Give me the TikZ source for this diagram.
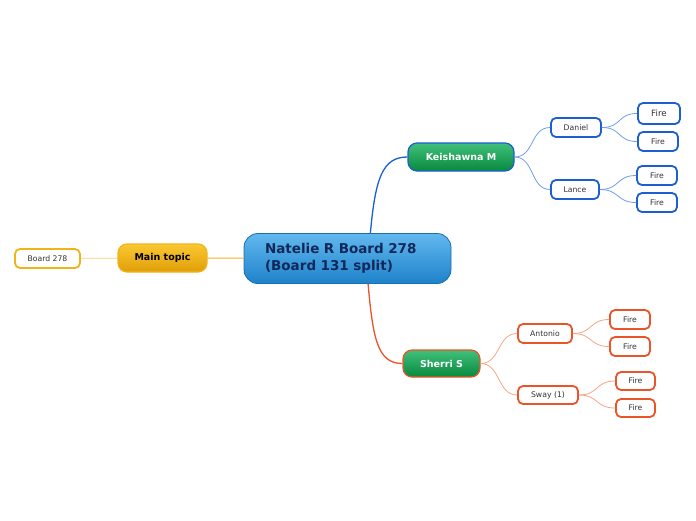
\documentclass[tikz,border=0pt]{standalone}
\usepackage{fontspec}
\setmainfont{DejaVu Sans}
\usetikzlibrary{positioning, calc}
\definecolor{blue_line}{HTML}{1B5FD3}
\definecolor{blue_soft}{HTML}{6F9EE6}
\definecolor{red_line}{HTML}{EA5428}
\definecolor{red_soft}{HTML}{F3A587}
\definecolor{gold_line}{HTML}{F2B318}
\definecolor{gold_soft}{HTML}{F7CF6A}
\definecolor{root_top}{HTML}{62B8EE}
\definecolor{root_bottom}{HTML}{1E82CA}
\definecolor{root_text}{HTML}{10285A}
\definecolor{green_top}{HTML}{40C07A}
\definecolor{green_bottom}{HTML}{08893E}
\definecolor{gold_top}{HTML}{FAC832}
\definecolor{gold_bottom}{HTML}{E09E08}
\tikzstyle{root_node}=[rectangle, rounded corners=14pt, draw=root_bottom!85!black, line width=0.8pt, top color=root_top, bottom color=root_bottom, minimum width=207pt, minimum height=50pt, text width=165pt, text=root_text, font=\bfseries\fontsize{13.5}{16.5}\selectfont, align=left]
\tikzstyle{topic_node}=[rectangle, rounded corners=9pt, line width=1.2pt, minimum height=28pt, inner sep=0pt, font=\bfseries\fontsize{9.5}{11}\selectfont]
\tikzstyle{green_node}=[topic_node, top color=green_top, bottom color=green_bottom, text=white]
\tikzstyle{leaf_node}=[rectangle, rounded corners=5pt, line width=1.8pt, fill=white, minimum height=19pt, inner sep=0pt, font=\fontsize{7.7}{9}\selectfont, text=black!80]

\begin{document}
\begin{tikzpicture}[x=1pt, y=-1pt]
    \useasboundingbox (0,0) rectangle (696,520);

    \node[root_node] at (347.5, 258.5) (ctr) {Natelie R Board 278\\(Board 131 split)};
    \node[topic_node, draw=gold_line, top color=gold_top, bottom color=gold_bottom, minimum width=89pt] at (162.5, 258) (main) {Main topic};
    \node[leaf_node, draw=gold_line, minimum width=65pt] at (47.5, 258.5) (board) {Board 278};

    \node[green_node, draw=blue_line, minimum width=106pt] at (461, 157) (kei) {Keishawna M};
    \node[green_node, draw=red_line, minimum width=77pt, minimum height=27pt] at (441.5, 363.5) (she) {Sherri S};

    \node[leaf_node, draw=blue_line, minimum width=50pt] at (576, 127.5) (dan) {Daniel};
    \node[leaf_node, draw=blue_line, minimum width=48pt] at (575, 189.5) (lan) {Lance};
    \node[leaf_node, draw=blue_line, minimum width=42pt, minimum height=21pt, font=\fontsize{8.7}{10}\selectfont] at (659, 113.5) (dan1) {Fire};
    \node[leaf_node, draw=blue_line, minimum width=40pt] at (658, 141.5) (dan2) {Fire};
    \node[leaf_node, draw=blue_line, minimum width=40pt] at (657, 175.5) (lan1) {Fire};
    \node[leaf_node, draw=blue_line, minimum width=40pt] at (657, 202.5) (lan2) {Fire};

    \node[leaf_node, draw=red_line, minimum width=54pt] at (545, 333.5) (ant) {Antonio};
    \node[leaf_node, draw=red_line, minimum width=60pt, minimum height=18pt] at (548, 395) (sway) {Sway (1)};
    \node[leaf_node, draw=red_line, minimum width=40pt] at (630, 319.5) (ant1) {Fire};
    \node[leaf_node, draw=red_line, minimum width=40pt] at (630, 346.5) (ant2) {Fire};
    \node[leaf_node, draw=red_line, minimum width=39pt, minimum height=18pt] at (635.5, 381) (sway1) {Fire};
    \node[leaf_node, draw=red_line, minimum width=39pt, minimum height=18pt] at (635.5, 408) (sway2) {Fire};

    \draw[gold_line, line width=1pt] (main) -- (ctr);
    \draw[gold_soft, line width=0.7pt] (board) -- (main);

    \draw[blue_line, line width=1.3pt] (ctr.48) .. controls +(5,-55) and +(-25,0) .. (kei.west);
    \draw[red_line, line width=1.3pt] (ctr.-51) .. controls +(5,55) and +(-25,0) .. (she.west);

    \draw[blue_soft, line width=0.8pt] (kei.east) .. controls +(20,0) and +(-20,0) .. (dan.west);
    \draw[blue_soft, line width=0.8pt] (kei.east) .. controls +(20,0) and +(-20,0) .. (lan.west);
    \draw[blue_soft, line width=0.8pt] (dan.east) .. controls +(20,0) and +(-20,0) .. (dan1.west);
    \draw[blue_soft, line width=0.8pt] (dan.east) .. controls +(20,0) and +(-20,0) .. (dan2.west);
    \draw[blue_soft, line width=0.8pt] (lan.east) .. controls +(20,0) and +(-20,0) .. (lan1.west);
    \draw[blue_soft, line width=0.8pt] (lan.east) .. controls +(20,0) and +(-20,0) .. (lan2.west);

    \draw[red_soft, line width=0.8pt] (she.east) .. controls +(20,0) and +(-20,0) .. (ant.west);
    \draw[red_soft, line width=0.8pt] (she.east) .. controls +(20,0) and +(-20,0) .. (sway.west);
    \draw[red_soft, line width=0.8pt] (ant.east) .. controls +(20,0) and +(-20,0) .. (ant1.west);
    \draw[red_soft, line width=0.8pt] (ant.east) .. controls +(20,0) and +(-20,0) .. (ant2.west);
    \draw[red_soft, line width=0.8pt] (sway.east) .. controls +(20,0) and +(-20,0) .. (sway1.west);
    \draw[red_soft, line width=0.8pt] (sway.east) .. controls +(20,0) and +(-20,0) .. (sway2.west);
    \end{tikzpicture}
\end{document}
